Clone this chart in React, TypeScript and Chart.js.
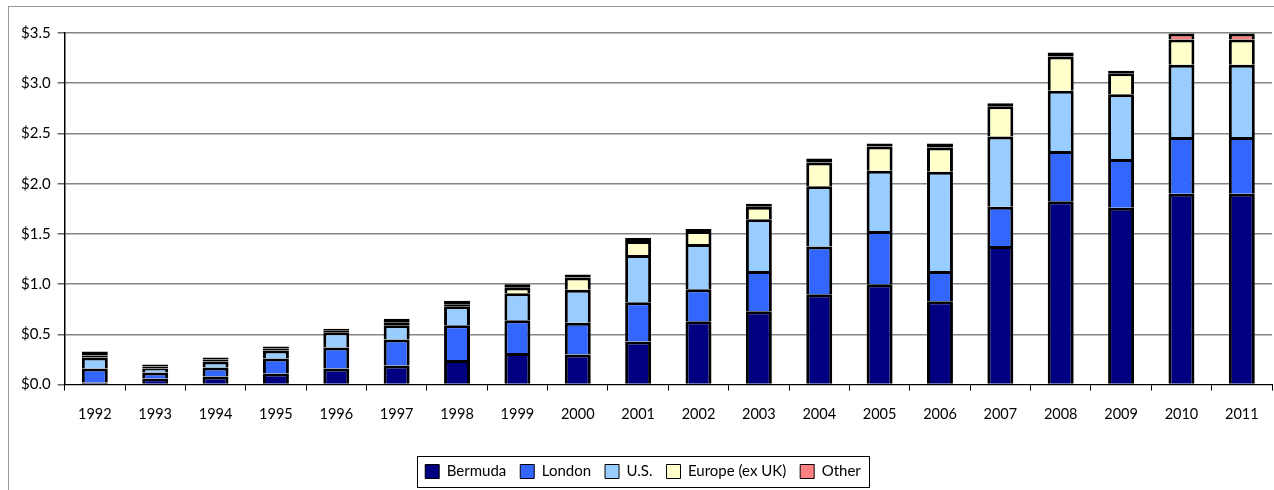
import React, { useEffect, useRef } from "react";
import { Chart, registerables } from "chart.js";

Chart.register(...registerables);

const years = ["1992", "1993", "1994", "1995", "1996", "1997", "1998", "1999", "2000", "2001", "2002", "2003", "2004", "2005", "2006", "2007", "2008", "2009", "2010", "2011"];
const bermuda = [0.02, 0.06, 0.08, 0.11, 0.16, 0.19, 0.245, 0.315, 0.3, 0.43, 0.63, 0.73, 0.9, 1.0, 0.83, 1.38, 1.825, 1.76, 1.9, 1.9];
const london = [0.14, 0.06, 0.09, 0.15, 0.21, 0.26, 0.345, 0.325, 0.315, 0.39, 0.32, 0.4, 0.475, 0.53, 0.3, 0.39, 0.5, 0.485, 0.565, 0.565];
const us = [0.11, 0.04, 0.06, 0.08, 0.15, 0.14, 0.19, 0.27, 0.33, 0.47, 0.45, 0.515, 0.6, 0.6, 0.99, 0.7, 0.6, 0.645, 0.72, 0.72];
const europe = [0.02, 0.02, 0.02, 0.02, 0.02, 0.03, 0.02, 0.055, 0.12, 0.14, 0.13, 0.125, 0.235, 0.24, 0.24, 0.3, 0.34, 0.21, 0.25, 0.25];
const other = [0.04, 0.02, 0.02, 0.02, 0.015, 0.035, 0.035, 0.035, 0.03, 0.03, 0.02, 0.03, 0.04, 0.03, 0.04, 0.03, 0.04, 0.025, 0.06, 0.06];

const seriesNames = ["Bermuda", "London", "U.S.", "Europe (ex UK)", "Other"];
const seriesColors = ["#000080", "#3366FF", "#99CCFF", "#FFFFCC", "#FF8080"];
const yTicks = [0, 0.5, 1, 1.5, 2, 2.5, 3, 3.5];

const FONT = "Lato, 'Open Sans', sans-serif";

const legendBorder = {
  id: "legendBorder",
  afterDraw(chart: any) {
    const lg = chart.legend;
    if (!lg || !lg.legendHitBoxes || !lg.legendHitBoxes.length) return;
    const boxes = lg.legendHitBoxes;
    let minX = Infinity, maxX = -Infinity, minY = Infinity, maxY = -Infinity;
    for (const b of boxes) {
      minX = Math.min(minX, b.left);
      maxX = Math.max(maxX, b.left + b.width);
      minY = Math.min(minY, b.top);
      maxY = Math.max(maxY, b.top + b.height);
    }
    const ctx = chart.ctx;
    ctx.save();
    ctx.strokeStyle = "#000";
    ctx.lineWidth = 1;
    ctx.strokeRect(Math.round(minX - 8) + 0.5, Math.round(minY - 8) + 0.5, Math.round(maxX - minX + 16), Math.round(maxY - minY + 16));
    ctx.restore();
  },
};

export default function App() {
  const ref = useRef<HTMLCanvasElement | null>(null);
  useEffect(() => {
    if (!ref.current) return;
    const data = [bermuda, london, us, europe, other];
    const chart = new Chart(ref.current, {
      type: "bar",
      data: {
        labels: years,
        datasets: data.map((d, i) => ({
          label: seriesNames[i],
          data: d,
          backgroundColor: seriesColors[i],
          borderColor: "#000",
          borderWidth: 3,
          borderSkipped: (ctx: any) => {
            const v = ctx.raw;
            return i >= 3 && typeof v === "number" && v < 0.05 ? false : "start";
          },
          categoryPercentage: 1,
          barPercentage: 0.43,
        })),
      },
      options: {
        animation: false,
        responsive: false,
        layout: { padding: { left: 14, right: 2, top: 33, bottom: 1 } },
        scales: {
          x: {
            stacked: true,
            grid: { display: true, drawOnChartArea: false, offset: true, tickLength: 6, color: "#000", tickColor: "#000" },
            border: { color: "#000", width: 1 },
            ticks: { color: "#000", font: { family: FONT, size: 14.5 }, padding: 15, maxRotation: 0 },
            afterFit: (axis: any) => {
              axis.height += 12;
            },
          },
          y: {
            stacked: true,
            min: 0,
            max: 3.5,
            afterBuildTicks: (axis: any) => {
              axis.ticks = yTicks.map((v) => ({ value: v }));
            },
            ticks: {
              color: "#000",
              font: { family: FONT, size: 15 },
              padding: 7,
              callback: (v: any) => "$" + Number(v).toFixed(1),
            },
            grid: { color: "#858585", lineWidth: 1.5, tickLength: 7, tickColor: "#666" },
            border: { color: "#000", width: 1.5 },
          },
        },
        plugins: {
          legend: {
            position: "bottom",
            labels: {
              boxWidth: 14,
              boxHeight: 14,
              padding: 14,
              color: "#000",
              font: { family: FONT, size: 15 },
              generateLabels: (c: any) =>
                c.data.datasets.map((ds: any, i: number) => ({
                  text: ds.label,
                  fillStyle: ds.backgroundColor,
                  strokeStyle: "#000",
                  lineWidth: 1,
                  hidden: false,
                  datasetIndex: i,
                  fontColor: "#000",
                })),
            },
          },
          tooltip: { enabled: false },
        },
      },
      plugins: [legendBorder],
    } as any);
    return () => chart.destroy();
  }, []);
  return (
    <div>
      <div
        style={{
          position: "fixed",
          left: 8,
          top: 6,
          width: 1300,
          height: 520,
          border: "1.5px solid #999",
          boxSizing: "border-box",
        }}
      />
      <canvas ref={ref} width={1274} height={490} style={{ position: "fixed", left: 0, top: 0, width: 1274, height: 490 }} />
    </div>
  );
}
